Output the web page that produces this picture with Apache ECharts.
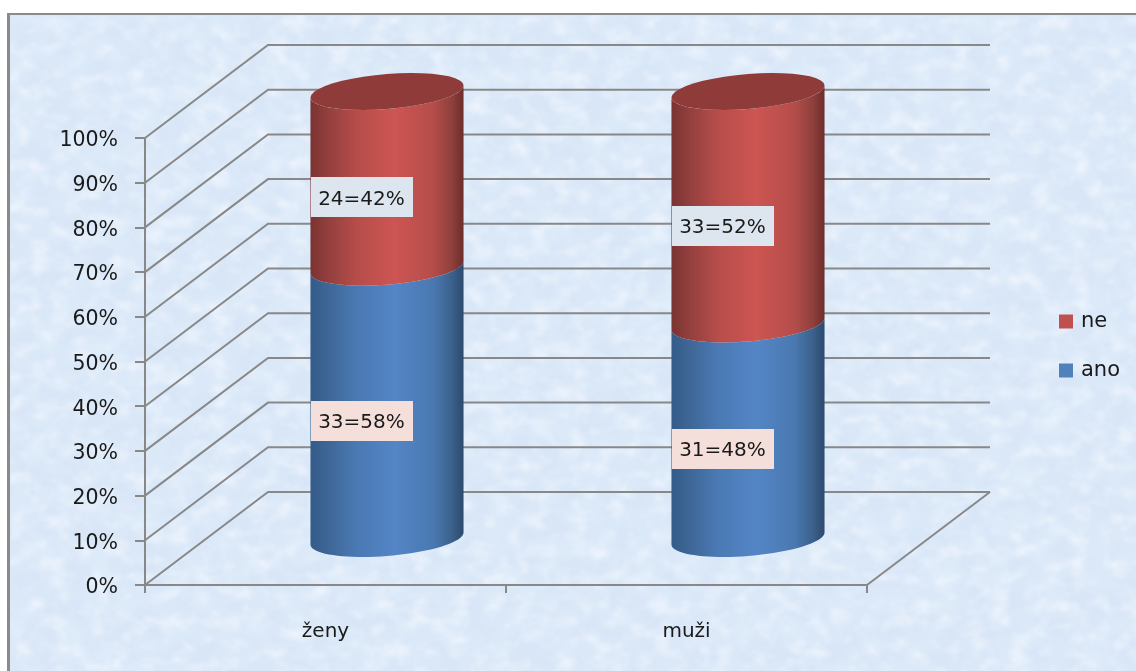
<!DOCTYPE html>
<html>
<head>
<meta charset="utf-8">
<style>
  html, body { margin: 0; padding: 0; background: #fff; }
  #page { position: relative; width: 1136px; height: 671px; overflow: hidden; }
  #paper { position: absolute; left: 7px; top: 13px; width: 1129px; height: 658px; background: #d8e6f7; border-left: 3px solid #8a8a8a; border-top: 2px solid #8a8a8a; box-sizing: border-box; }
  #paper svg { position: absolute; left: 0; top: 0; }
  #main { position: absolute; left: 0; top: 0; width: 1136px; height: 671px; }
</style>
</head>
<body>
<div id="page">
  <div id="paper">
    <svg width="1129" height="658">
      <filter id="marble" x="0" y="0" width="100%" height="100%">
        <feTurbulence type="fractalNoise" baseFrequency="0.04" numOctaves="4" seed="7"/>
        <feColorMatrix type="matrix" values="0 0 0 0 0.76  0 0 0 0 0.86  0 0 0 0 0.96  1.4 0 0 0 -0.5"/>
        <feGaussianBlur stdDeviation="1"/>
      </filter>
      <filter id="glow" x="0" y="0" width="100%" height="100%">
        <feTurbulence type="fractalNoise" baseFrequency="0.05 0.07" numOctaves="4" seed="21"/>
        <feColorMatrix type="matrix" values="0 0 0 0 0.92  0 0 0 0 0.95  0 0 0 0 1  0 1.5 0 0 -0.68"/>
        <feGaussianBlur stdDeviation="1"/>
      </filter>
      <rect width="1129" height="658" filter="url(#marble)"/>
      <rect width="1129" height="658" filter="url(#glow)"/>
    </svg>
  </div>
  <div id="main"></div>
</div>
<script src="https://cdn.jsdelivr.net/npm/echarts@6/dist/echarts.min.js"></script>
<script>
const categories = ['ženy', 'muži'];
const anoValues = [60.7, 48];
const neValues = [39.3, 52];
const anoLabels = ['33=58%', '31=48%'];
const neLabels = ['24=42%', '33=52%'];
const tickValues = [0, 10, 20, 30, 40, 50, 60, 70, 80, 90, 100];

const FONT = '"DejaVu Sans", sans-serif';
const DEPTH_X = 123;
const DEPTH_Y = 93;
const GREY = '#888888';

function gradient(stops) {
  return new echarts.graphic.LinearGradient(0, 0, 1, 0, stops);
}
const anoFill = gradient([
  { offset: 0, color: '#345b89' }, { offset: 0.12, color: '#3e6797' },
  { offset: 0.3, color: '#4a79b3' }, { offset: 0.55, color: '#5485c6' },
  { offset: 0.8, color: '#4a79b1' }, { offset: 0.92, color: '#3c628d' },
  { offset: 1, color: '#2c4a6e' }
]);
const neFill = gradient([
  { offset: 0, color: '#7a3331' }, { offset: 0.12, color: '#93403e' },
  { offset: 0.3, color: '#b64d4a' }, { offset: 0.55, color: '#cd5552' },
  { offset: 0.8, color: '#b54d4a' }, { offset: 0.92, color: '#90403d' },
  { offset: 1, color: '#6d2d2c' }
]);

// half of an ellipse that leans up to the right, as in the 3d chart
function arc(cx, cy, a, fromAngle, toAngle) {
  const pts = [];
  for (let i = 0; i <= 40; i++) {
    const t = fromAngle + (toAngle - fromAngle) * i / 40;
    pts.push([cx + a * Math.cos(t), cy + 17.5 * Math.sin(t) - 6 * Math.cos(t)]);
  }
  return pts;
}

function renderWall(params, api) {
  const cs = params.coordSys;
  const y = api.coord([0, api.value(1)])[1];
  const lineStyle = { stroke: GREY, lineWidth: 2, fill: null };
  const children = [{
    type: 'polyline',
    shape: { points: [[cs.x, y], [cs.x + DEPTH_X, y - DEPTH_Y], [cs.x + cs.width + DEPTH_X, y - DEPTH_Y]] },
    style: lineStyle
  }];
  if (api.value(1) === 0) {
    children.push({
      type: 'line',
      shape: { x1: cs.x + cs.width, y1: y, x2: cs.x + cs.width + DEPTH_X, y2: y - DEPTH_Y },
      style: lineStyle
    });
  }
  return { type: 'group', children };
}

function cylinderRenderer(fill, labels, labelBg, hasCap) {
  return function (params, api) {
    const idx = api.value(0);
    const p0 = api.coord([idx, api.value(1)]);
    const p1 = api.coord([idx, api.value(2)]);
    const a = api.size([1, 0])[0] * 0.212;
    const cx = p0[0] + DEPTH_X / 2;
    const y0 = p0[1] - DEPTH_Y / 2;
    const y1 = p1[1] - DEPTH_Y / 2;
    const mid = (y0 + y1) / 2 + 18;
    const boxX = cx - a + 1;
    const children = [{
      type: 'polygon',
      shape: { points: arc(cx, y0, a, Math.PI, 0).concat(arc(cx, y1, a, 0, Math.PI)) },
      style: { fill, stroke: 'none', lineWidth: 0 }
    }];
    if (hasCap) {
      children.push({
        type: 'polygon',
        shape: { points: arc(cx, y1, a, 0, Math.PI * 2) },
        style: { fill: '#8f3b39', stroke: 'none', lineWidth: 0 }
      });
    }
    children.push({
      type: 'rect',
      shape: { x: Math.round(boxX), y: Math.round(mid - 20), width: 102, height: 40 },
      style: { fill: labelBg, stroke: 'none', lineWidth: 0 }
    }, {
      type: 'text',
      style: {
        x: boxX + 50, y: mid + 2, text: labels[idx],
        font: '20px ' + FONT, fill: '#1a1a1a', align: 'center', verticalAlign: 'middle'
      }
    });
    return { type: 'group', children };
  };
}

const chart = echarts.init(document.getElementById('main'), null, { renderer: 'canvas' });
chart.setOption({
  animation: false,
  backgroundColor: 'transparent',
  grid: { left: 145, top: 138, width: 722, height: 447 },
  legend: {
    orient: 'vertical', left: 1054, top: 306,
    data: ['ne', 'ano'],
    icon: 'rect', itemWidth: 14, itemHeight: 14, itemGap: 28,
    selectedMode: false,
    textStyle: { fontFamily: FONT, fontSize: 21, color: '#1a1a1a', padding: [0, 0, 0, 3] }
  },
  xAxis: {
    type: 'category',
    data: categories,
    axisLine: { lineStyle: { color: GREY, width: 2 } },
    axisTick: { show: true, length: 8, lineStyle: { color: GREY, width: 2 } },
    axisLabel: { fontFamily: FONT, fontSize: 20, color: '#1a1a1a', margin: 37 }
  },
  yAxis: {
    type: 'value',
    min: 0,
    max: 100,
    interval: 10,
    axisLine: { show: true, lineStyle: { color: GREY, width: 2 } },
    axisTick: { show: true, length: 10, lineStyle: { color: GREY, width: 2 } },
    axisLabel: {
      formatter: '{tick|{value}%}',
      margin: 27,
      rich: { tick: { fontFamily: FONT, fontSize: 20.5, color: '#1a1a1a', padding: [6, 0, 0, 0] } }
    },
    splitLine: { show: false }
  },
  series: [
    {
      type: 'custom', name: 'wall', z: 1, silent: true,
      renderItem: renderWall,
      data: tickValues.map(v => [0, v])
    },
    {
      type: 'custom', name: 'ano', z: 2, silent: true,
      itemStyle: { color: '#4f81bd' },
      renderItem: cylinderRenderer(anoFill, anoLabels, '#f5dfda', false),
      data: categories.map((c, i) => [i, 0, anoValues[i]])
    },
    {
      type: 'custom', name: 'ne', z: 3, silent: true,
      itemStyle: { color: '#c0504d' },
      renderItem: cylinderRenderer(neFill, neLabels, '#dde6ef', true),
      data: categories.map((c, i) => [i, anoValues[i], anoValues[i] + neValues[i]])
    }
  ]
});
</script>
</body>
</html>
